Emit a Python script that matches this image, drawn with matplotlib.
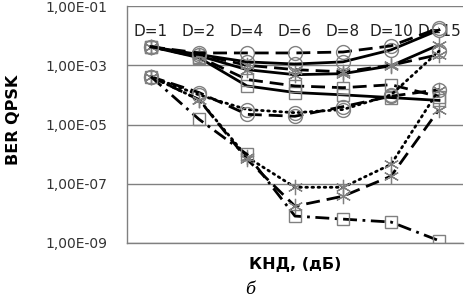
import numpy as np
import matplotlib
matplotlib.use("Agg")
import matplotlib.pyplot as plt
from matplotlib.ticker import FixedLocator, FuncFormatter

categories = ["D=1", "D=2", "D=4", "D=6", "D=8", "D=10", "D=15"]

# BER values per series
circle_dash  = [4.2e-3, 2.6e-3, 2.6e-3, 2.6e-3, 2.8e-3, 4.5e-3, 1.8e-2]
circle_solid = [4.2e-3, 2.3e-3, 1.3e-3, 1.1e-3, 1.3e-3, 3.3e-3, 1.55e-2]
star_dash    = [4.2e-3, 2.3e-3, 1.0e-3, 7.1e-4, 6.0e-4, 1.0e-3, 2.3e-3]
star_solid   = [4.2e-3, 2.1e-3, 7.1e-4, 4.8e-4, 5.2e-4, 9.6e-4, 4.9e-3]
square_dash  = [4.2e-3, 1.9e-3, 3.3e-4, 2.0e-4, 1.75e-4, 2.2e-4, 8.7e-5]
square_solid = [4.2e-3, 1.8e-3, 2.0e-4, 1.2e-4, 1.0e-4, 8.1e-5, 6.5e-5]
circle_dot   = [4.1e-4, 1.0e-4, 3.2e-5, 2.5e-5, 3.2e-5, 1.0e-4, 3.0e-3]
circle_dash2 = [4.1e-4, 1.2e-4, 2.2e-5, 1.9e-5, 4.0e-5, 9.0e-5, 1.5e-4]
star_dot     = [4.1e-4, 6.9e-5, 8.0e-7, 7.6e-8, 7.6e-8, 4.5e-7, 1.5e-4]
star_dash2   = [4.1e-4, 6.9e-5, 6.7e-7, 1.75e-8, 3.8e-8, 1.8e-7, 3.2e-5]
square_dashdot = [4.1e-4, 1.5e-5, 9.8e-7, 8.1e-9, 6.4e-9, 5.1e-9, 1.2e-9]

yticks = [1e-1, 1e-3, 1e-5, 1e-7, 1e-9]
label_level = 1.35e-2

W, H = 465, 300
fig = plt.figure(figsize=(W / 100, H / 100), dpi=100)
ax = fig.add_axes([127 / W, 1 - 243 / H, (463 - 127) / W, (243 - 6) / H])

x = np.arange(len(categories))
gray = "#808080"
lw = 2.0

def star():
    return dict(marker=(6, 2, 0), markersize=11, markeredgecolor=gray, markeredgewidth=0.9)

def circ():
    return dict(marker="o", markersize=10, markerfacecolor="none", markeredgecolor=gray, markeredgewidth=1.0)

def sq():
    return dict(marker="s", markersize=9, markerfacecolor="none", markeredgecolor=gray, markeredgewidth=1.0)

longdash = (0, (5, 2.5))
dotted = (0, (0.6, 1.6))
dashdot = (0, (5, 2, 1, 2))

ax.plot(x, square_solid, color="black", lw=lw, ls="-", **sq())
ax.plot(x, square_dash, color="black", lw=lw, ls=longdash, **sq())
ax.plot(x, star_solid, color="black", lw=lw, ls="-", **star())
ax.plot(x, star_dash, color="black", lw=lw, ls=longdash, **star())
ax.plot(x, circle_solid, color="black", lw=lw, ls="-", **circ())
ax.plot(x, circle_dash, color="black", lw=lw, ls=longdash, **circ())
ax.plot(x, circle_dot, color="black", lw=lw, ls=dotted, dash_capstyle="round", **circ())
ax.plot(x, circle_dash2, color="black", lw=lw, ls=longdash, **circ())
ax.plot(x, star_dot, color="black", lw=lw, ls=dotted, dash_capstyle="round", **star())
ax.plot(x, star_dash2, color="black", lw=lw, ls=longdash, **star())
ax.plot(x, square_dashdot, color="black", lw=lw, ls=dashdot, **sq())

ax.set_yscale("log")
ax.set_ylim(1e-9, 1e-1)
ax.set_xlim(-0.5, len(categories) - 0.5)
ax.yaxis.set_major_locator(FixedLocator(yticks))
ax.yaxis.set_minor_locator(FixedLocator([]))
ax.yaxis.set_major_formatter(FuncFormatter(lambda v, p: ("%.2E" % v).replace(".", ",").replace("E-0", "E-0")))
ax.set_xticks([])
ax.grid(axis="y", color=gray, lw=1.0)
ax.set_axisbelow(True)
for s in ["top", "right"]:
    ax.spines[s].set_visible(False)
for s in ["left", "bottom"]:
    ax.spines[s].set_color(gray)
    ax.spines[s].set_linewidth(1.0)
ax.tick_params(axis="y", length=0, pad=14, labelsize=10, labelcolor="#333333")

for i, c in enumerate(categories):
    ax.text(i, label_level, c, ha="center", va="center", fontsize=11, color="#222222", zorder=1)

fig.text(295 / W, 1 - 265 / H, "КНД, (дБ)", ha="center", va="center", fontsize=11.5, fontweight="bold")
fig.text(14 / W, 1 - 120 / H, "BER QPSK", ha="center", va="center", fontsize=11.5, fontweight="bold", rotation=90)
fig.text(250 / W, 1 - 290 / H, "б", ha="center", va="center", fontsize=12, style="italic", family="DejaVu Serif")

fig.savefig("out.png", dpi=100)
